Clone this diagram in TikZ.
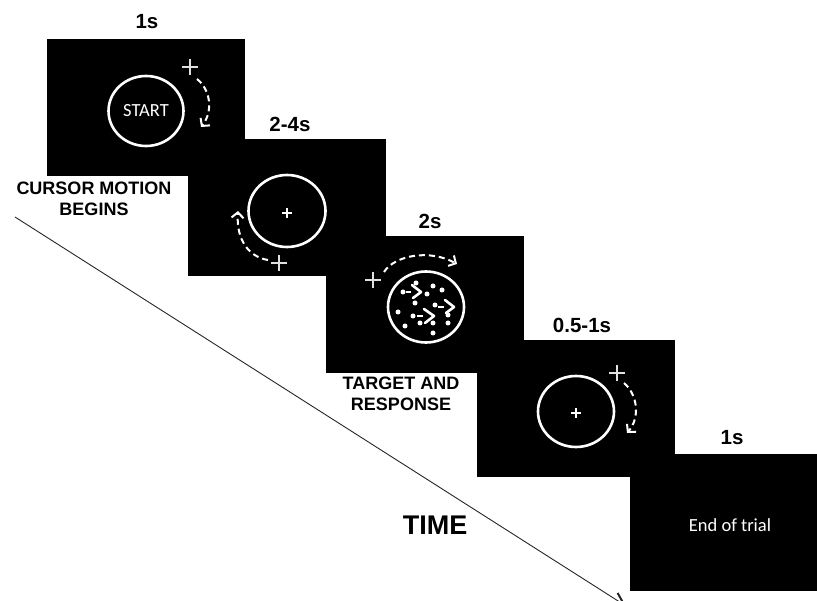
\documentclass[tikz,border=0pt]{standalone}
\usepackage{fontspec}
\setmainfont{Liberation Sans}
\newfontfamily\calib{Carlito}
\usetikzlibrary{arrows.meta,shapes.geometric}
\begin{document}
\begin{tikzpicture}[x=1pt,y=-1pt,
  panel/.style={fill=black,draw=none,minimum width=198pt,minimum height=137pt,anchor=north west,inner sep=0pt,outer sep=0pt},
  durlabel/.style={font=\bfseries\fontsize{20.5}{24}\selectfont,inner sep=0pt},
  caplabel/.style={font=\bfseries\fontsize{18}{21}\selectfont,align=center,inner sep=0pt},
  ring/.style={draw=white,line width=2.6pt,ellipse,inner sep=0pt,text=white,font=\calib\fontsize{18.5}{20}\selectfont},
  bigcross/.style={draw=white!88!black,line width=1.1pt},
  smallcross/.style={draw=white,line width=1.5pt},
  motion/.style={draw=white,line width=2pt,dash pattern=on 6pt off 4pt,-{Straight Barb[length=5.5pt,width=12pt,line width=2pt]}},
  chev/.style={draw=white,line width=2.6pt,line join=round,line cap=round},
  tail/.style={draw=white,line width=1.4pt},
  dotw/.style={fill=white}
]
\useasboundingbox (0,0) rectangle (817,601);

% time axis
\coordinate (tstart) at (15,217);
\coordinate (tend) at (626,606);
\draw[draw=black!85,line width=0.9pt,-{Straight Barb[length=12pt,width=13pt,line width=2pt]}] (tstart) -- (tend);
\node[font=\bfseries\fontsize{27}{30}\selectfont,inner sep=0pt] (time) at (435,525) {TIME};

% panel 1
\node[panel] (p1) at (47,39) {};
\node[ring,minimum width=75pt,minimum height=70pt] (c1) at (146,111) {START};
\draw[bigcross] (182,67) -- (198,67) (190,59) -- (190,75);
\coordinate (a1s) at (197,79);
\coordinate (a1e) at (201,127);
\draw[motion] (a1s) .. controls (211,90) and (213,112) .. (a1e);

% panel 2
\node[panel] (p2) at (188,139) {};
\node[ring,minimum width=77pt,minimum height=72pt] (c2) at (287,211) {};
\draw[smallcross] (282,213) -- (292,213) (287,208) -- (287,218);
\draw[bigcross] (271,263) -- (287,263) (279,255) -- (279,271);
\coordinate (a2s) at (268,260);
\coordinate (a2e) at (238,211);
\draw[motion] (a2s) .. controls (249,257) and (236,240) .. (a2e);

% panel 3
\node[panel] (p3) at (326,236) {};
\node[ring,minimum width=76pt,minimum height=71pt] (c3) at (426,307) {};
\draw[bigcross] (365,280) -- (381,280) (373,272) -- (373,288);
\coordinate (a3s) at (384,272);
\coordinate (a3e) at (457,264);
\draw[motion] (a3s) .. controls (395,255) and (430,249) .. (a3e);
\foreach \px/\py in {403/292,435/305,413/316,416/283,433/286,442/290,427/294,415/303,448/315,398/312,405/326,420/323,433/323,448/323,433/333}
  \fill[dotw] (\px,\py) circle (2.5pt);
\draw[tail] (406,292) -- (411,292);
\draw[chev] (412,285) -- (421,292) -- (413,298);
\draw[tail] (438,307) -- (444,307);
\draw[chev] (445,300) -- (454,307) -- (446,313);
\draw[tail] (417,316) -- (423,316);
\draw[chev] (424,309) -- (434,316) -- (425,323);

% panel 4
\node[panel] (p4) at (477,340) {};
\node[ring,minimum width=76pt,minimum height=71pt] (c4) at (576,411.5) {};
\draw[smallcross] (571,413) -- (581,413) (576,408) -- (576,418);
\draw[bigcross] (609,373) -- (625,373) (617,365) -- (617,381);
\coordinate (a4s) at (624,383);
\coordinate (a4e) at (627,433);
\draw[motion] (a4s) .. controls (638,395) and (640,418) .. (a4e);

% panel 5
\node[panel] (p5) at (630,454) {};
\node[text=white,font=\calib\fontsize{18.5}{20}\selectfont,inner sep=0pt] (eot) at (730,525) {End of trial};

% duration labels
\node[durlabel] (d1) at (147,22) {1s};
\node[durlabel] (d2) at (290,124) {2-4s};
\node[durlabel] (d3) at (430,221) {2s};
\node[durlabel] (d4) at (582,325) {0.5-1s};
\node[durlabel] (d5) at (732,438) {1s};

% captions
\node[caplabel] (cap1) at (94,199) {CURSOR MOTION\\BEGINS};
\node[caplabel] (cap2) at (401,394) {TARGET AND\\RESPONSE};
\end{tikzpicture}
\end{document}
